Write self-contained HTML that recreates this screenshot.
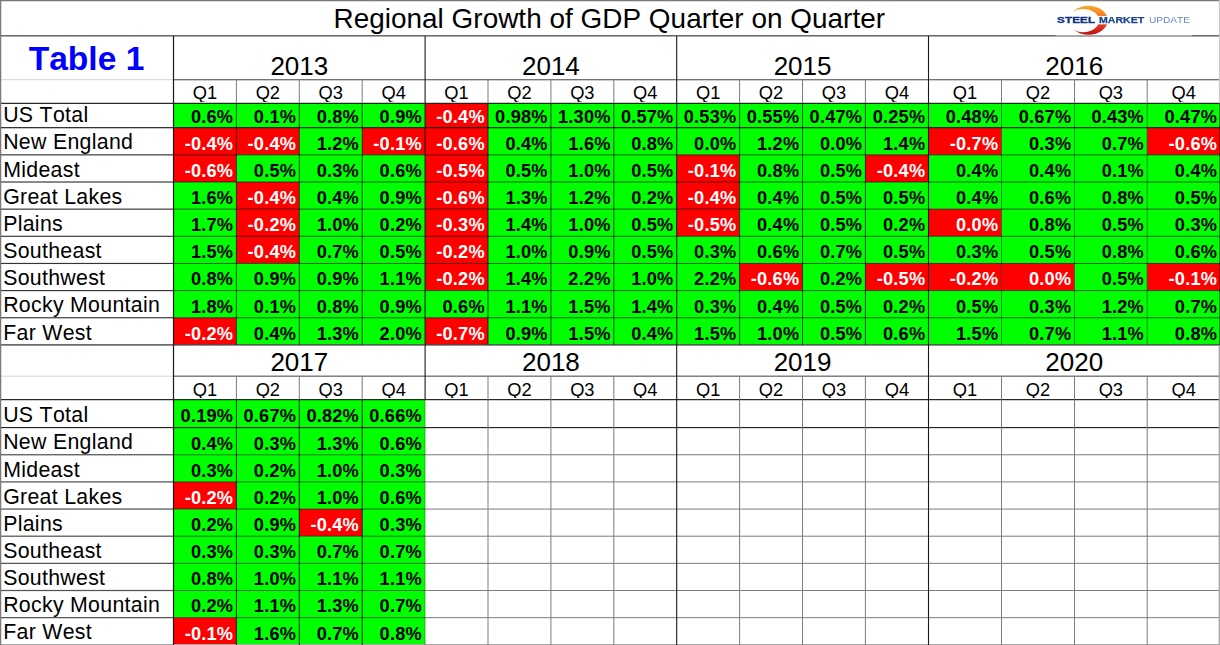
<!DOCTYPE html>
<html><head><meta charset="utf-8"><title>Regional Growth of GDP Quarter on Quarter</title>
<style>
html,body{margin:0;padding:0;background:#fff;}
body{width:1220px;height:645px;overflow:hidden;position:relative;font-family:"Liberation Sans",sans-serif;color:#000;}
#g{position:absolute;left:0;top:0;}
div{position:absolute;white-space:nowrap;line-height:1;font-kerning:none;font-feature-settings:"kern" 0,"liga" 0;}
.v{font-weight:bold;font-size:18.2px;text-align:right;height:20px;letter-spacing:0.2px;}
.w{color:#fff;}
.l{left:3.2px;font-size:21.3px;letter-spacing:0.3px;}
.y{font-size:26px;text-align:center;}
.q{font-size:18.3px;text-align:center;height:17.6px;overflow:hidden;}
.t{left:333.5px;font-size:27.9px;top:5.2px;letter-spacing:0.03px;}
.t1{left:0;width:173px;text-align:center;font-size:33.6px;font-weight:bold;color:#0000ff;top:41.6px;}
.logo{position:absolute;}
.lt{font-size:9.2px;top:15.6px;transform-origin:0 0;}
</style></head><body>
<svg id="g" width="1220" height="645" viewBox="0 0 1220 645">
<rect x="173.50" y="103.35" width="62.90" height="24.35" fill="#00ff00"/>
<rect x="236.40" y="103.35" width="62.90" height="24.35" fill="#00ff00"/>
<rect x="299.30" y="103.35" width="62.90" height="24.35" fill="#00ff00"/>
<rect x="362.20" y="103.35" width="62.90" height="24.35" fill="#00ff00"/>
<rect x="425.10" y="103.35" width="62.90" height="24.35" fill="#ff0000"/>
<rect x="488.00" y="103.35" width="62.90" height="24.35" fill="#00ff00"/>
<rect x="550.90" y="103.35" width="62.90" height="24.35" fill="#00ff00"/>
<rect x="613.80" y="103.35" width="62.90" height="24.35" fill="#00ff00"/>
<rect x="676.70" y="103.35" width="62.90" height="24.35" fill="#00ff00"/>
<rect x="739.60" y="103.35" width="62.90" height="24.35" fill="#00ff00"/>
<rect x="802.50" y="103.35" width="62.90" height="24.35" fill="#00ff00"/>
<rect x="865.40" y="103.35" width="63.10" height="24.35" fill="#00ff00"/>
<rect x="928.50" y="103.35" width="73.00" height="24.35" fill="#00ff00"/>
<rect x="1001.50" y="103.35" width="73.00" height="24.35" fill="#00ff00"/>
<rect x="1074.50" y="103.35" width="72.70" height="24.35" fill="#00ff00"/>
<rect x="1147.20" y="103.35" width="73.10" height="24.35" fill="#00ff00"/>
<rect x="173.50" y="127.70" width="62.90" height="27.15" fill="#ff0000"/>
<rect x="236.40" y="127.70" width="62.90" height="27.15" fill="#ff0000"/>
<rect x="299.30" y="127.70" width="62.90" height="27.15" fill="#00ff00"/>
<rect x="362.20" y="127.70" width="62.90" height="27.15" fill="#ff0000"/>
<rect x="425.10" y="127.70" width="62.90" height="27.15" fill="#ff0000"/>
<rect x="488.00" y="127.70" width="62.90" height="27.15" fill="#00ff00"/>
<rect x="550.90" y="127.70" width="62.90" height="27.15" fill="#00ff00"/>
<rect x="613.80" y="127.70" width="62.90" height="27.15" fill="#00ff00"/>
<rect x="676.70" y="127.70" width="62.90" height="27.15" fill="#00ff00"/>
<rect x="739.60" y="127.70" width="62.90" height="27.15" fill="#00ff00"/>
<rect x="802.50" y="127.70" width="62.90" height="27.15" fill="#00ff00"/>
<rect x="865.40" y="127.70" width="63.10" height="27.15" fill="#00ff00"/>
<rect x="928.50" y="127.70" width="73.00" height="27.15" fill="#ff0000"/>
<rect x="1001.50" y="127.70" width="73.00" height="27.15" fill="#00ff00"/>
<rect x="1074.50" y="127.70" width="72.70" height="27.15" fill="#00ff00"/>
<rect x="1147.20" y="127.70" width="73.10" height="27.15" fill="#ff0000"/>
<rect x="173.50" y="154.85" width="62.90" height="27.15" fill="#ff0000"/>
<rect x="236.40" y="154.85" width="62.90" height="27.15" fill="#00ff00"/>
<rect x="299.30" y="154.85" width="62.90" height="27.15" fill="#00ff00"/>
<rect x="362.20" y="154.85" width="62.90" height="27.15" fill="#00ff00"/>
<rect x="425.10" y="154.85" width="62.90" height="27.15" fill="#ff0000"/>
<rect x="488.00" y="154.85" width="62.90" height="27.15" fill="#00ff00"/>
<rect x="550.90" y="154.85" width="62.90" height="27.15" fill="#00ff00"/>
<rect x="613.80" y="154.85" width="62.90" height="27.15" fill="#00ff00"/>
<rect x="676.70" y="154.85" width="62.90" height="27.15" fill="#ff0000"/>
<rect x="739.60" y="154.85" width="62.90" height="27.15" fill="#00ff00"/>
<rect x="802.50" y="154.85" width="62.90" height="27.15" fill="#00ff00"/>
<rect x="865.40" y="154.85" width="63.10" height="27.15" fill="#ff0000"/>
<rect x="928.50" y="154.85" width="73.00" height="27.15" fill="#00ff00"/>
<rect x="1001.50" y="154.85" width="73.00" height="27.15" fill="#00ff00"/>
<rect x="1074.50" y="154.85" width="72.70" height="27.15" fill="#00ff00"/>
<rect x="1147.20" y="154.85" width="73.10" height="27.15" fill="#00ff00"/>
<rect x="173.50" y="182.00" width="62.90" height="27.15" fill="#00ff00"/>
<rect x="236.40" y="182.00" width="62.90" height="27.15" fill="#ff0000"/>
<rect x="299.30" y="182.00" width="62.90" height="27.15" fill="#00ff00"/>
<rect x="362.20" y="182.00" width="62.90" height="27.15" fill="#00ff00"/>
<rect x="425.10" y="182.00" width="62.90" height="27.15" fill="#ff0000"/>
<rect x="488.00" y="182.00" width="62.90" height="27.15" fill="#00ff00"/>
<rect x="550.90" y="182.00" width="62.90" height="27.15" fill="#00ff00"/>
<rect x="613.80" y="182.00" width="62.90" height="27.15" fill="#00ff00"/>
<rect x="676.70" y="182.00" width="62.90" height="27.15" fill="#ff0000"/>
<rect x="739.60" y="182.00" width="62.90" height="27.15" fill="#00ff00"/>
<rect x="802.50" y="182.00" width="62.90" height="27.15" fill="#00ff00"/>
<rect x="865.40" y="182.00" width="63.10" height="27.15" fill="#00ff00"/>
<rect x="928.50" y="182.00" width="73.00" height="27.15" fill="#00ff00"/>
<rect x="1001.50" y="182.00" width="73.00" height="27.15" fill="#00ff00"/>
<rect x="1074.50" y="182.00" width="72.70" height="27.15" fill="#00ff00"/>
<rect x="1147.20" y="182.00" width="73.10" height="27.15" fill="#00ff00"/>
<rect x="173.50" y="209.15" width="62.90" height="27.15" fill="#00ff00"/>
<rect x="236.40" y="209.15" width="62.90" height="27.15" fill="#ff0000"/>
<rect x="299.30" y="209.15" width="62.90" height="27.15" fill="#00ff00"/>
<rect x="362.20" y="209.15" width="62.90" height="27.15" fill="#00ff00"/>
<rect x="425.10" y="209.15" width="62.90" height="27.15" fill="#ff0000"/>
<rect x="488.00" y="209.15" width="62.90" height="27.15" fill="#00ff00"/>
<rect x="550.90" y="209.15" width="62.90" height="27.15" fill="#00ff00"/>
<rect x="613.80" y="209.15" width="62.90" height="27.15" fill="#00ff00"/>
<rect x="676.70" y="209.15" width="62.90" height="27.15" fill="#ff0000"/>
<rect x="739.60" y="209.15" width="62.90" height="27.15" fill="#00ff00"/>
<rect x="802.50" y="209.15" width="62.90" height="27.15" fill="#00ff00"/>
<rect x="865.40" y="209.15" width="63.10" height="27.15" fill="#00ff00"/>
<rect x="928.50" y="209.15" width="73.00" height="27.15" fill="#ff0000"/>
<rect x="1001.50" y="209.15" width="73.00" height="27.15" fill="#00ff00"/>
<rect x="1074.50" y="209.15" width="72.70" height="27.15" fill="#00ff00"/>
<rect x="1147.20" y="209.15" width="73.10" height="27.15" fill="#00ff00"/>
<rect x="173.50" y="236.30" width="62.90" height="27.15" fill="#00ff00"/>
<rect x="236.40" y="236.30" width="62.90" height="27.15" fill="#ff0000"/>
<rect x="299.30" y="236.30" width="62.90" height="27.15" fill="#00ff00"/>
<rect x="362.20" y="236.30" width="62.90" height="27.15" fill="#00ff00"/>
<rect x="425.10" y="236.30" width="62.90" height="27.15" fill="#ff0000"/>
<rect x="488.00" y="236.30" width="62.90" height="27.15" fill="#00ff00"/>
<rect x="550.90" y="236.30" width="62.90" height="27.15" fill="#00ff00"/>
<rect x="613.80" y="236.30" width="62.90" height="27.15" fill="#00ff00"/>
<rect x="676.70" y="236.30" width="62.90" height="27.15" fill="#00ff00"/>
<rect x="739.60" y="236.30" width="62.90" height="27.15" fill="#00ff00"/>
<rect x="802.50" y="236.30" width="62.90" height="27.15" fill="#00ff00"/>
<rect x="865.40" y="236.30" width="63.10" height="27.15" fill="#00ff00"/>
<rect x="928.50" y="236.30" width="73.00" height="27.15" fill="#00ff00"/>
<rect x="1001.50" y="236.30" width="73.00" height="27.15" fill="#00ff00"/>
<rect x="1074.50" y="236.30" width="72.70" height="27.15" fill="#00ff00"/>
<rect x="1147.20" y="236.30" width="73.10" height="27.15" fill="#00ff00"/>
<rect x="173.50" y="263.45" width="62.90" height="27.15" fill="#00ff00"/>
<rect x="236.40" y="263.45" width="62.90" height="27.15" fill="#00ff00"/>
<rect x="299.30" y="263.45" width="62.90" height="27.15" fill="#00ff00"/>
<rect x="362.20" y="263.45" width="62.90" height="27.15" fill="#00ff00"/>
<rect x="425.10" y="263.45" width="62.90" height="27.15" fill="#ff0000"/>
<rect x="488.00" y="263.45" width="62.90" height="27.15" fill="#00ff00"/>
<rect x="550.90" y="263.45" width="62.90" height="27.15" fill="#00ff00"/>
<rect x="613.80" y="263.45" width="62.90" height="27.15" fill="#00ff00"/>
<rect x="676.70" y="263.45" width="62.90" height="27.15" fill="#00ff00"/>
<rect x="739.60" y="263.45" width="62.90" height="27.15" fill="#ff0000"/>
<rect x="802.50" y="263.45" width="62.90" height="27.15" fill="#00ff00"/>
<rect x="865.40" y="263.45" width="63.10" height="27.15" fill="#ff0000"/>
<rect x="928.50" y="263.45" width="73.00" height="27.15" fill="#ff0000"/>
<rect x="1001.50" y="263.45" width="73.00" height="27.15" fill="#ff0000"/>
<rect x="1074.50" y="263.45" width="72.70" height="27.15" fill="#00ff00"/>
<rect x="1147.20" y="263.45" width="73.10" height="27.15" fill="#ff0000"/>
<rect x="173.50" y="290.60" width="62.90" height="27.15" fill="#00ff00"/>
<rect x="236.40" y="290.60" width="62.90" height="27.15" fill="#00ff00"/>
<rect x="299.30" y="290.60" width="62.90" height="27.15" fill="#00ff00"/>
<rect x="362.20" y="290.60" width="62.90" height="27.15" fill="#00ff00"/>
<rect x="425.10" y="290.60" width="62.90" height="27.15" fill="#00ff00"/>
<rect x="488.00" y="290.60" width="62.90" height="27.15" fill="#00ff00"/>
<rect x="550.90" y="290.60" width="62.90" height="27.15" fill="#00ff00"/>
<rect x="613.80" y="290.60" width="62.90" height="27.15" fill="#00ff00"/>
<rect x="676.70" y="290.60" width="62.90" height="27.15" fill="#00ff00"/>
<rect x="739.60" y="290.60" width="62.90" height="27.15" fill="#00ff00"/>
<rect x="802.50" y="290.60" width="62.90" height="27.15" fill="#00ff00"/>
<rect x="865.40" y="290.60" width="63.10" height="27.15" fill="#00ff00"/>
<rect x="928.50" y="290.60" width="73.00" height="27.15" fill="#00ff00"/>
<rect x="1001.50" y="290.60" width="73.00" height="27.15" fill="#00ff00"/>
<rect x="1074.50" y="290.60" width="72.70" height="27.15" fill="#00ff00"/>
<rect x="1147.20" y="290.60" width="73.10" height="27.15" fill="#00ff00"/>
<rect x="173.50" y="317.75" width="62.90" height="27.15" fill="#ff0000"/>
<rect x="236.40" y="317.75" width="62.90" height="27.15" fill="#00ff00"/>
<rect x="299.30" y="317.75" width="62.90" height="27.15" fill="#00ff00"/>
<rect x="362.20" y="317.75" width="62.90" height="27.15" fill="#00ff00"/>
<rect x="425.10" y="317.75" width="62.90" height="27.15" fill="#ff0000"/>
<rect x="488.00" y="317.75" width="62.90" height="27.15" fill="#00ff00"/>
<rect x="550.90" y="317.75" width="62.90" height="27.15" fill="#00ff00"/>
<rect x="613.80" y="317.75" width="62.90" height="27.15" fill="#00ff00"/>
<rect x="676.70" y="317.75" width="62.90" height="27.15" fill="#00ff00"/>
<rect x="739.60" y="317.75" width="62.90" height="27.15" fill="#00ff00"/>
<rect x="802.50" y="317.75" width="62.90" height="27.15" fill="#00ff00"/>
<rect x="865.40" y="317.75" width="63.10" height="27.15" fill="#00ff00"/>
<rect x="928.50" y="317.75" width="73.00" height="27.15" fill="#00ff00"/>
<rect x="1001.50" y="317.75" width="73.00" height="27.15" fill="#00ff00"/>
<rect x="1074.50" y="317.75" width="72.70" height="27.15" fill="#00ff00"/>
<rect x="1147.20" y="317.75" width="73.10" height="27.15" fill="#00ff00"/>
<rect x="173.50" y="399.65" width="62.90" height="27.95" fill="#00ff00"/>
<rect x="236.40" y="399.65" width="62.90" height="27.95" fill="#00ff00"/>
<rect x="299.30" y="399.65" width="62.90" height="27.95" fill="#00ff00"/>
<rect x="362.20" y="399.65" width="62.90" height="27.95" fill="#00ff00"/>
<rect x="173.50" y="427.60" width="62.90" height="27.15" fill="#00ff00"/>
<rect x="236.40" y="427.60" width="62.90" height="27.15" fill="#00ff00"/>
<rect x="299.30" y="427.60" width="62.90" height="27.15" fill="#00ff00"/>
<rect x="362.20" y="427.60" width="62.90" height="27.15" fill="#00ff00"/>
<rect x="173.50" y="454.75" width="62.90" height="27.15" fill="#00ff00"/>
<rect x="236.40" y="454.75" width="62.90" height="27.15" fill="#00ff00"/>
<rect x="299.30" y="454.75" width="62.90" height="27.15" fill="#00ff00"/>
<rect x="362.20" y="454.75" width="62.90" height="27.15" fill="#00ff00"/>
<rect x="173.50" y="481.90" width="62.90" height="27.15" fill="#ff0000"/>
<rect x="236.40" y="481.90" width="62.90" height="27.15" fill="#00ff00"/>
<rect x="299.30" y="481.90" width="62.90" height="27.15" fill="#00ff00"/>
<rect x="362.20" y="481.90" width="62.90" height="27.15" fill="#00ff00"/>
<rect x="173.50" y="509.05" width="62.90" height="27.15" fill="#00ff00"/>
<rect x="236.40" y="509.05" width="62.90" height="27.15" fill="#00ff00"/>
<rect x="299.30" y="509.05" width="62.90" height="27.15" fill="#ff0000"/>
<rect x="362.20" y="509.05" width="62.90" height="27.15" fill="#00ff00"/>
<rect x="173.50" y="536.20" width="62.90" height="27.15" fill="#00ff00"/>
<rect x="236.40" y="536.20" width="62.90" height="27.15" fill="#00ff00"/>
<rect x="299.30" y="536.20" width="62.90" height="27.15" fill="#00ff00"/>
<rect x="362.20" y="536.20" width="62.90" height="27.15" fill="#00ff00"/>
<rect x="173.50" y="563.35" width="62.90" height="27.15" fill="#00ff00"/>
<rect x="236.40" y="563.35" width="62.90" height="27.15" fill="#00ff00"/>
<rect x="299.30" y="563.35" width="62.90" height="27.15" fill="#00ff00"/>
<rect x="362.20" y="563.35" width="62.90" height="27.15" fill="#00ff00"/>
<rect x="173.50" y="590.50" width="62.90" height="27.15" fill="#00ff00"/>
<rect x="236.40" y="590.50" width="62.90" height="27.15" fill="#00ff00"/>
<rect x="299.30" y="590.50" width="62.90" height="27.15" fill="#00ff00"/>
<rect x="362.20" y="590.50" width="62.90" height="27.15" fill="#00ff00"/>
<rect x="173.50" y="617.65" width="62.90" height="27.15" fill="#ff0000"/>
<rect x="236.40" y="617.65" width="62.90" height="27.15" fill="#00ff00"/>
<rect x="299.30" y="617.65" width="62.90" height="27.15" fill="#00ff00"/>
<rect x="362.20" y="617.65" width="62.90" height="27.15" fill="#00ff00"/>
<rect x="0.00" y="-0.05" width="1220.00" height="1.30" fill="#7a7a7a"/>
<rect x="0.00" y="35.10" width="1220.00" height="1.40" fill="#5a5a5a"/>
<rect x="1055.50" y="34.60" width="136.50" height="1.10" fill="rgba(255,255,255,0.6)"/>
<rect x="0.00" y="79.20" width="173.50" height="1.00" fill="#d4d4d4"/>
<rect x="173.50" y="79.05" width="1046.50" height="1.30" fill="#6e6e6e"/>
<rect x="0.00" y="102.77" width="1220.00" height="1.15" fill="#1a1a1a"/>
<rect x="0.00" y="127.12" width="1220.00" height="1.15" fill="#1a1a1a"/>
<rect x="0.00" y="154.28" width="173.50" height="1.15" fill="#333"/>
<rect x="173.50" y="154.35" width="1046.50" height="1.00" fill="rgba(0,0,0,0.62)"/>
<rect x="0.00" y="181.43" width="173.50" height="1.15" fill="#333"/>
<rect x="173.50" y="181.50" width="1046.50" height="1.00" fill="rgba(0,0,0,0.62)"/>
<rect x="0.00" y="208.57" width="173.50" height="1.15" fill="#333"/>
<rect x="173.50" y="208.65" width="1046.50" height="1.00" fill="rgba(0,0,0,0.62)"/>
<rect x="0.00" y="235.73" width="173.50" height="1.15" fill="#333"/>
<rect x="173.50" y="235.80" width="1046.50" height="1.00" fill="rgba(0,0,0,0.62)"/>
<rect x="0.00" y="262.88" width="173.50" height="1.15" fill="#333"/>
<rect x="173.50" y="262.95" width="1046.50" height="1.00" fill="rgba(0,0,0,0.62)"/>
<rect x="0.00" y="290.02" width="173.50" height="1.15" fill="#333"/>
<rect x="173.50" y="290.10" width="1046.50" height="1.00" fill="rgba(0,0,0,0.62)"/>
<rect x="0.00" y="317.18" width="173.50" height="1.15" fill="#333"/>
<rect x="173.50" y="317.25" width="1046.50" height="1.00" fill="rgba(0,0,0,0.62)"/>
<rect x="0.00" y="344.20" width="1220.00" height="1.40" fill="#4a4a4a"/>
<rect x="0.00" y="375.70" width="173.50" height="1.00" fill="#d4d4d4"/>
<rect x="173.50" y="375.55" width="1046.50" height="1.30" fill="#6e6e6e"/>
<rect x="0.00" y="399.07" width="1220.00" height="1.15" fill="#1a1a1a"/>
<rect x="0.00" y="427.05" width="1220.00" height="1.10" fill="#1a1a1a"/>
<rect x="0.00" y="454.12" width="173.50" height="1.25" fill="#555"/>
<rect x="173.50" y="454.25" width="251.60" height="1.00" fill="rgba(0,0,0,0.55)"/>
<rect x="425.10" y="454.25" width="794.90" height="1.00" fill="#7c7c7c"/>
<rect x="0.00" y="481.28" width="173.50" height="1.25" fill="#555"/>
<rect x="173.50" y="481.40" width="251.60" height="1.00" fill="rgba(0,0,0,0.55)"/>
<rect x="425.10" y="481.40" width="794.90" height="1.00" fill="#7c7c7c"/>
<rect x="0.00" y="508.43" width="173.50" height="1.25" fill="#555"/>
<rect x="173.50" y="508.55" width="251.60" height="1.00" fill="rgba(0,0,0,0.55)"/>
<rect x="425.10" y="508.55" width="794.90" height="1.00" fill="#7c7c7c"/>
<rect x="0.00" y="535.58" width="173.50" height="1.25" fill="#555"/>
<rect x="173.50" y="535.70" width="251.60" height="1.00" fill="rgba(0,0,0,0.55)"/>
<rect x="425.10" y="535.70" width="794.90" height="1.00" fill="#7c7c7c"/>
<rect x="0.00" y="562.73" width="173.50" height="1.25" fill="#555"/>
<rect x="173.50" y="562.85" width="251.60" height="1.00" fill="rgba(0,0,0,0.55)"/>
<rect x="425.10" y="562.85" width="794.90" height="1.00" fill="#7c7c7c"/>
<rect x="0.00" y="589.88" width="173.50" height="1.25" fill="#555"/>
<rect x="173.50" y="590.00" width="251.60" height="1.00" fill="rgba(0,0,0,0.55)"/>
<rect x="425.10" y="590.00" width="794.90" height="1.00" fill="#7c7c7c"/>
<rect x="0.00" y="617.02" width="173.50" height="1.25" fill="#555"/>
<rect x="173.50" y="617.15" width="251.60" height="1.00" fill="rgba(0,0,0,0.55)"/>
<rect x="425.10" y="617.15" width="794.90" height="1.00" fill="#7c7c7c"/>
<rect x="0.00" y="644.00" width="1220.00" height="1.20" fill="#a8a8a8"/>
<rect x="-0.05" y="0.00" width="1.30" height="645.00" fill="#7a7a7a"/>
<rect x="1218.95" y="0.00" width="1.00" height="103.35" fill="#c4c4c4"/>
<rect x="1219.00" y="103.35" width="1.00" height="241.55" fill="rgba(0,0,0,0.5)"/>
<rect x="1218.70" y="344.90" width="1.30" height="300.10" fill="#a4a4a4"/>
<rect x="172.90" y="36.00" width="1.20" height="609.00" fill="#1a1a1a"/>
<rect x="235.90" y="79.70" width="1.00" height="23.65" fill="#7c7c7c"/>
<rect x="235.90" y="103.35" width="1.00" height="241.55" fill="rgba(0,0,0,0.72)"/>
<rect x="235.90" y="376.20" width="1.00" height="23.45" fill="#7c7c7c"/>
<rect x="235.90" y="399.65" width="1.00" height="245.35" fill="rgba(0,0,0,0.85)"/>
<rect x="298.80" y="79.70" width="1.00" height="23.65" fill="#7c7c7c"/>
<rect x="298.80" y="103.35" width="1.00" height="241.55" fill="rgba(0,0,0,0.72)"/>
<rect x="298.80" y="376.20" width="1.00" height="23.45" fill="#7c7c7c"/>
<rect x="298.80" y="399.65" width="1.00" height="245.35" fill="rgba(0,0,0,0.85)"/>
<rect x="361.70" y="79.70" width="1.00" height="23.65" fill="#7c7c7c"/>
<rect x="361.70" y="103.35" width="1.00" height="241.55" fill="rgba(0,0,0,0.72)"/>
<rect x="361.70" y="376.20" width="1.00" height="23.45" fill="#7c7c7c"/>
<rect x="361.70" y="399.65" width="1.00" height="245.35" fill="rgba(0,0,0,0.85)"/>
<rect x="424.55" y="36.00" width="1.10" height="363.65" fill="#1a1a1a"/>
<rect x="424.60" y="399.65" width="1.00" height="245.35" fill="rgba(0,0,0,0.3)"/>
<rect x="487.50" y="79.70" width="1.00" height="23.65" fill="#7c7c7c"/>
<rect x="487.50" y="103.35" width="1.00" height="241.55" fill="rgba(0,0,0,0.72)"/>
<rect x="487.50" y="376.20" width="1.00" height="23.45" fill="#7c7c7c"/>
<rect x="487.50" y="399.65" width="1.00" height="245.35" fill="#7c7c7c"/>
<rect x="550.40" y="79.70" width="1.00" height="23.65" fill="#7c7c7c"/>
<rect x="550.40" y="103.35" width="1.00" height="241.55" fill="rgba(0,0,0,0.72)"/>
<rect x="550.40" y="376.20" width="1.00" height="23.45" fill="#7c7c7c"/>
<rect x="550.40" y="399.65" width="1.00" height="245.35" fill="#7c7c7c"/>
<rect x="613.30" y="79.70" width="1.00" height="23.65" fill="#7c7c7c"/>
<rect x="613.30" y="103.35" width="1.00" height="241.55" fill="rgba(0,0,0,0.72)"/>
<rect x="613.30" y="376.20" width="1.00" height="23.45" fill="#7c7c7c"/>
<rect x="613.30" y="399.65" width="1.00" height="245.35" fill="#7c7c7c"/>
<rect x="676.15" y="36.00" width="1.10" height="609.00" fill="#1a1a1a"/>
<rect x="739.10" y="79.70" width="1.00" height="23.65" fill="#7c7c7c"/>
<rect x="739.10" y="103.35" width="1.00" height="241.55" fill="rgba(0,0,0,0.72)"/>
<rect x="739.10" y="376.20" width="1.00" height="23.45" fill="#7c7c7c"/>
<rect x="739.10" y="399.65" width="1.00" height="245.35" fill="#7c7c7c"/>
<rect x="802.00" y="79.70" width="1.00" height="23.65" fill="#7c7c7c"/>
<rect x="802.00" y="103.35" width="1.00" height="241.55" fill="rgba(0,0,0,0.72)"/>
<rect x="802.00" y="376.20" width="1.00" height="23.45" fill="#7c7c7c"/>
<rect x="802.00" y="399.65" width="1.00" height="245.35" fill="#7c7c7c"/>
<rect x="864.90" y="79.70" width="1.00" height="23.65" fill="#7c7c7c"/>
<rect x="864.90" y="103.35" width="1.00" height="241.55" fill="rgba(0,0,0,0.72)"/>
<rect x="864.90" y="376.20" width="1.00" height="23.45" fill="#7c7c7c"/>
<rect x="864.90" y="399.65" width="1.00" height="245.35" fill="#7c7c7c"/>
<rect x="927.95" y="36.00" width="1.10" height="609.00" fill="#1a1a1a"/>
<rect x="1001.00" y="79.70" width="1.00" height="23.65" fill="#7c7c7c"/>
<rect x="1001.00" y="103.35" width="1.00" height="241.55" fill="rgba(0,0,0,0.45)"/>
<rect x="1001.00" y="376.20" width="1.00" height="23.45" fill="#7c7c7c"/>
<rect x="1001.00" y="399.65" width="1.00" height="245.35" fill="#7c7c7c"/>
<rect x="1074.00" y="79.70" width="1.00" height="23.65" fill="#7c7c7c"/>
<rect x="1074.00" y="103.35" width="1.00" height="241.55" fill="rgba(0,0,0,0.45)"/>
<rect x="1074.00" y="376.20" width="1.00" height="23.45" fill="#7c7c7c"/>
<rect x="1074.00" y="399.65" width="1.00" height="245.35" fill="#7c7c7c"/>
<rect x="1146.70" y="79.70" width="1.00" height="23.65" fill="#7c7c7c"/>
<rect x="1146.70" y="103.35" width="1.00" height="241.55" fill="rgba(0,0,0,0.45)"/>
<rect x="1146.70" y="376.20" width="1.00" height="23.45" fill="#7c7c7c"/>
<rect x="1146.70" y="399.65" width="1.00" height="245.35" fill="#7c7c7c"/>
</svg>
<div class="t">Regional Growth of GDP Quarter on Quarter</div>
<div class="t1">Table 1</div>
<svg class="logo" width="60" height="36" viewBox="1060 0 60 36" style="left:1060px;top:0px">
<defs><linearGradient id="sw" gradientUnits="userSpaceOnUse" x1="0" y1="5.5" x2="0" y2="35"><stop offset="0" stop-color="#fbab2c"/><stop offset="0.35" stop-color="#f47a22"/><stop offset="0.62" stop-color="#e8431f"/><stop offset="1" stop-color="#bb0d14"/></linearGradient>
<mask id="mk" maskUnits="userSpaceOnUse" x="1060" y="0" width="60" height="36"><rect x="1060" y="0" width="60" height="36" fill="#fff"/><ellipse cx="1083.1" cy="20.55" rx="15.9" ry="11.65" fill="#000"/></mask></defs>
<ellipse cx="1088.5" cy="20.3" rx="19.2" ry="14.5" fill="url(#sw)" mask="url(#mk)"/>
<rect x="1094" y="16.1" width="16" height="8.2" fill="#fff"/>
</svg>
<div class="lt" style="left:1057.3px;font-weight:bold;color:#14347f;-webkit-text-stroke:0.3px #14347f;transform:scaleX(1.29)">STEEL</div>
<div class="lt" style="left:1099.3px;font-weight:bold;color:#1a4592;-webkit-text-stroke:0.25px #1a4592;transform:scaleX(1.15)">MARKET</div>
<div class="lt" style="left:1148.6px;color:#6585c6;transform:scaleX(1.10)">UPDATE</div>
<div class="v" style="left:173.5px;width:59.7px;top:107.5px">0.6%</div>
<div class="v" style="left:236.4px;width:59.7px;top:107.5px">0.1%</div>
<div class="v" style="left:299.3px;width:59.7px;top:107.5px">0.8%</div>
<div class="v" style="left:362.2px;width:59.7px;top:107.5px">0.9%</div>
<div class="v w" style="left:425.1px;width:59.7px;top:107.5px">-0.4%</div>
<div class="v" style="left:488.0px;width:59.7px;top:107.5px">0.98%</div>
<div class="v" style="left:550.9px;width:59.7px;top:107.5px">1.30%</div>
<div class="v" style="left:613.8px;width:59.7px;top:107.5px">0.57%</div>
<div class="v" style="left:676.7px;width:59.7px;top:107.5px">0.53%</div>
<div class="v" style="left:739.6px;width:59.7px;top:107.5px">0.55%</div>
<div class="v" style="left:802.5px;width:59.7px;top:107.5px">0.47%</div>
<div class="v" style="left:865.4px;width:59.9px;top:107.5px">0.25%</div>
<div class="v" style="left:928.5px;width:69.8px;top:107.5px">0.48%</div>
<div class="v" style="left:1001.5px;width:69.8px;top:107.5px">0.67%</div>
<div class="v" style="left:1074.5px;width:69.5px;top:107.5px">0.43%</div>
<div class="v" style="left:1147.2px;width:69.9px;top:107.5px">0.47%</div>
<div class="v w" style="left:173.5px;width:59.7px;top:134.7px">-0.4%</div>
<div class="v w" style="left:236.4px;width:59.7px;top:134.7px">-0.4%</div>
<div class="v" style="left:299.3px;width:59.7px;top:134.7px">1.2%</div>
<div class="v w" style="left:362.2px;width:59.7px;top:134.7px">-0.1%</div>
<div class="v w" style="left:425.1px;width:59.7px;top:134.7px">-0.6%</div>
<div class="v" style="left:488.0px;width:59.7px;top:134.7px">0.4%</div>
<div class="v" style="left:550.9px;width:59.7px;top:134.7px">1.6%</div>
<div class="v" style="left:613.8px;width:59.7px;top:134.7px">0.8%</div>
<div class="v" style="left:676.7px;width:59.7px;top:134.7px">0.0%</div>
<div class="v" style="left:739.6px;width:59.7px;top:134.7px">1.2%</div>
<div class="v" style="left:802.5px;width:59.7px;top:134.7px">0.0%</div>
<div class="v" style="left:865.4px;width:59.9px;top:134.7px">1.4%</div>
<div class="v w" style="left:928.5px;width:69.8px;top:134.7px">-0.7%</div>
<div class="v" style="left:1001.5px;width:69.8px;top:134.7px">0.3%</div>
<div class="v" style="left:1074.5px;width:69.5px;top:134.7px">0.7%</div>
<div class="v w" style="left:1147.2px;width:69.9px;top:134.7px">-0.6%</div>
<div class="v w" style="left:173.5px;width:59.7px;top:161.8px">-0.6%</div>
<div class="v" style="left:236.4px;width:59.7px;top:161.8px">0.5%</div>
<div class="v" style="left:299.3px;width:59.7px;top:161.8px">0.3%</div>
<div class="v" style="left:362.2px;width:59.7px;top:161.8px">0.6%</div>
<div class="v w" style="left:425.1px;width:59.7px;top:161.8px">-0.5%</div>
<div class="v" style="left:488.0px;width:59.7px;top:161.8px">0.5%</div>
<div class="v" style="left:550.9px;width:59.7px;top:161.8px">1.0%</div>
<div class="v" style="left:613.8px;width:59.7px;top:161.8px">0.5%</div>
<div class="v w" style="left:676.7px;width:59.7px;top:161.8px">-0.1%</div>
<div class="v" style="left:739.6px;width:59.7px;top:161.8px">0.8%</div>
<div class="v" style="left:802.5px;width:59.7px;top:161.8px">0.5%</div>
<div class="v w" style="left:865.4px;width:59.9px;top:161.8px">-0.4%</div>
<div class="v" style="left:928.5px;width:69.8px;top:161.8px">0.4%</div>
<div class="v" style="left:1001.5px;width:69.8px;top:161.8px">0.4%</div>
<div class="v" style="left:1074.5px;width:69.5px;top:161.8px">0.1%</div>
<div class="v" style="left:1147.2px;width:69.9px;top:161.8px">0.4%</div>
<div class="v" style="left:173.5px;width:59.7px;top:188.9px">1.6%</div>
<div class="v w" style="left:236.4px;width:59.7px;top:188.9px">-0.4%</div>
<div class="v" style="left:299.3px;width:59.7px;top:188.9px">0.4%</div>
<div class="v" style="left:362.2px;width:59.7px;top:188.9px">0.9%</div>
<div class="v w" style="left:425.1px;width:59.7px;top:188.9px">-0.6%</div>
<div class="v" style="left:488.0px;width:59.7px;top:188.9px">1.3%</div>
<div class="v" style="left:550.9px;width:59.7px;top:188.9px">1.2%</div>
<div class="v" style="left:613.8px;width:59.7px;top:188.9px">0.2%</div>
<div class="v w" style="left:676.7px;width:59.7px;top:188.9px">-0.4%</div>
<div class="v" style="left:739.6px;width:59.7px;top:188.9px">0.4%</div>
<div class="v" style="left:802.5px;width:59.7px;top:188.9px">0.5%</div>
<div class="v" style="left:865.4px;width:59.9px;top:188.9px">0.5%</div>
<div class="v" style="left:928.5px;width:69.8px;top:188.9px">0.4%</div>
<div class="v" style="left:1001.5px;width:69.8px;top:188.9px">0.6%</div>
<div class="v" style="left:1074.5px;width:69.5px;top:188.9px">0.8%</div>
<div class="v" style="left:1147.2px;width:69.9px;top:188.9px">0.5%</div>
<div class="v" style="left:173.5px;width:59.7px;top:216.1px">1.7%</div>
<div class="v w" style="left:236.4px;width:59.7px;top:216.1px">-0.2%</div>
<div class="v" style="left:299.3px;width:59.7px;top:216.1px">1.0%</div>
<div class="v" style="left:362.2px;width:59.7px;top:216.1px">0.2%</div>
<div class="v w" style="left:425.1px;width:59.7px;top:216.1px">-0.3%</div>
<div class="v" style="left:488.0px;width:59.7px;top:216.1px">1.4%</div>
<div class="v" style="left:550.9px;width:59.7px;top:216.1px">1.0%</div>
<div class="v" style="left:613.8px;width:59.7px;top:216.1px">0.5%</div>
<div class="v w" style="left:676.7px;width:59.7px;top:216.1px">-0.5%</div>
<div class="v" style="left:739.6px;width:59.7px;top:216.1px">0.4%</div>
<div class="v" style="left:802.5px;width:59.7px;top:216.1px">0.5%</div>
<div class="v" style="left:865.4px;width:59.9px;top:216.1px">0.2%</div>
<div class="v w" style="left:928.5px;width:69.8px;top:216.1px">0.0%</div>
<div class="v" style="left:1001.5px;width:69.8px;top:216.1px">0.8%</div>
<div class="v" style="left:1074.5px;width:69.5px;top:216.1px">0.5%</div>
<div class="v" style="left:1147.2px;width:69.9px;top:216.1px">0.3%</div>
<div class="v" style="left:173.5px;width:59.7px;top:243.2px">1.5%</div>
<div class="v w" style="left:236.4px;width:59.7px;top:243.2px">-0.4%</div>
<div class="v" style="left:299.3px;width:59.7px;top:243.2px">0.7%</div>
<div class="v" style="left:362.2px;width:59.7px;top:243.2px">0.5%</div>
<div class="v w" style="left:425.1px;width:59.7px;top:243.2px">-0.2%</div>
<div class="v" style="left:488.0px;width:59.7px;top:243.2px">1.0%</div>
<div class="v" style="left:550.9px;width:59.7px;top:243.2px">0.9%</div>
<div class="v" style="left:613.8px;width:59.7px;top:243.2px">0.5%</div>
<div class="v" style="left:676.7px;width:59.7px;top:243.2px">0.3%</div>
<div class="v" style="left:739.6px;width:59.7px;top:243.2px">0.6%</div>
<div class="v" style="left:802.5px;width:59.7px;top:243.2px">0.7%</div>
<div class="v" style="left:865.4px;width:59.9px;top:243.2px">0.5%</div>
<div class="v" style="left:928.5px;width:69.8px;top:243.2px">0.3%</div>
<div class="v" style="left:1001.5px;width:69.8px;top:243.2px">0.5%</div>
<div class="v" style="left:1074.5px;width:69.5px;top:243.2px">0.8%</div>
<div class="v" style="left:1147.2px;width:69.9px;top:243.2px">0.6%</div>
<div class="v" style="left:173.5px;width:59.7px;top:270.4px">0.8%</div>
<div class="v" style="left:236.4px;width:59.7px;top:270.4px">0.9%</div>
<div class="v" style="left:299.3px;width:59.7px;top:270.4px">0.9%</div>
<div class="v" style="left:362.2px;width:59.7px;top:270.4px">1.1%</div>
<div class="v w" style="left:425.1px;width:59.7px;top:270.4px">-0.2%</div>
<div class="v" style="left:488.0px;width:59.7px;top:270.4px">1.4%</div>
<div class="v" style="left:550.9px;width:59.7px;top:270.4px">2.2%</div>
<div class="v" style="left:613.8px;width:59.7px;top:270.4px">1.0%</div>
<div class="v" style="left:676.7px;width:59.7px;top:270.4px">2.2%</div>
<div class="v w" style="left:739.6px;width:59.7px;top:270.4px">-0.6%</div>
<div class="v" style="left:802.5px;width:59.7px;top:270.4px">0.2%</div>
<div class="v w" style="left:865.4px;width:59.9px;top:270.4px">-0.5%</div>
<div class="v w" style="left:928.5px;width:69.8px;top:270.4px">-0.2%</div>
<div class="v w" style="left:1001.5px;width:69.8px;top:270.4px">0.0%</div>
<div class="v" style="left:1074.5px;width:69.5px;top:270.4px">0.5%</div>
<div class="v w" style="left:1147.2px;width:69.9px;top:270.4px">-0.1%</div>
<div class="v" style="left:173.5px;width:59.7px;top:297.6px">1.8%</div>
<div class="v" style="left:236.4px;width:59.7px;top:297.6px">0.1%</div>
<div class="v" style="left:299.3px;width:59.7px;top:297.6px">0.8%</div>
<div class="v" style="left:362.2px;width:59.7px;top:297.6px">0.9%</div>
<div class="v" style="left:425.1px;width:59.7px;top:297.6px">0.6%</div>
<div class="v" style="left:488.0px;width:59.7px;top:297.6px">1.1%</div>
<div class="v" style="left:550.9px;width:59.7px;top:297.6px">1.5%</div>
<div class="v" style="left:613.8px;width:59.7px;top:297.6px">1.4%</div>
<div class="v" style="left:676.7px;width:59.7px;top:297.6px">0.3%</div>
<div class="v" style="left:739.6px;width:59.7px;top:297.6px">0.4%</div>
<div class="v" style="left:802.5px;width:59.7px;top:297.6px">0.5%</div>
<div class="v" style="left:865.4px;width:59.9px;top:297.6px">0.2%</div>
<div class="v" style="left:928.5px;width:69.8px;top:297.6px">0.5%</div>
<div class="v" style="left:1001.5px;width:69.8px;top:297.6px">0.3%</div>
<div class="v" style="left:1074.5px;width:69.5px;top:297.6px">1.2%</div>
<div class="v" style="left:1147.2px;width:69.9px;top:297.6px">0.7%</div>
<div class="v w" style="left:173.5px;width:59.7px;top:324.7px">-0.2%</div>
<div class="v" style="left:236.4px;width:59.7px;top:324.7px">0.4%</div>
<div class="v" style="left:299.3px;width:59.7px;top:324.7px">1.3%</div>
<div class="v" style="left:362.2px;width:59.7px;top:324.7px">2.0%</div>
<div class="v w" style="left:425.1px;width:59.7px;top:324.7px">-0.7%</div>
<div class="v" style="left:488.0px;width:59.7px;top:324.7px">0.9%</div>
<div class="v" style="left:550.9px;width:59.7px;top:324.7px">1.5%</div>
<div class="v" style="left:613.8px;width:59.7px;top:324.7px">0.4%</div>
<div class="v" style="left:676.7px;width:59.7px;top:324.7px">1.5%</div>
<div class="v" style="left:739.6px;width:59.7px;top:324.7px">1.0%</div>
<div class="v" style="left:802.5px;width:59.7px;top:324.7px">0.5%</div>
<div class="v" style="left:865.4px;width:59.9px;top:324.7px">0.6%</div>
<div class="v" style="left:928.5px;width:69.8px;top:324.7px">1.5%</div>
<div class="v" style="left:1001.5px;width:69.8px;top:324.7px">0.7%</div>
<div class="v" style="left:1074.5px;width:69.5px;top:324.7px">1.1%</div>
<div class="v" style="left:1147.2px;width:69.9px;top:324.7px">0.8%</div>
<div class="v" style="left:173.5px;width:59.7px;top:407.4px">0.19%</div>
<div class="v" style="left:236.4px;width:59.7px;top:407.4px">0.67%</div>
<div class="v" style="left:299.3px;width:59.7px;top:407.4px">0.82%</div>
<div class="v" style="left:362.2px;width:59.7px;top:407.4px">0.66%</div>
<div class="v" style="left:173.5px;width:59.7px;top:434.6px">0.4%</div>
<div class="v" style="left:236.4px;width:59.7px;top:434.6px">0.3%</div>
<div class="v" style="left:299.3px;width:59.7px;top:434.6px">1.3%</div>
<div class="v" style="left:362.2px;width:59.7px;top:434.6px">0.6%</div>
<div class="v" style="left:173.5px;width:59.7px;top:461.7px">0.3%</div>
<div class="v" style="left:236.4px;width:59.7px;top:461.7px">0.2%</div>
<div class="v" style="left:299.3px;width:59.7px;top:461.7px">1.0%</div>
<div class="v" style="left:362.2px;width:59.7px;top:461.7px">0.3%</div>
<div class="v w" style="left:173.5px;width:59.7px;top:488.9px">-0.2%</div>
<div class="v" style="left:236.4px;width:59.7px;top:488.9px">0.2%</div>
<div class="v" style="left:299.3px;width:59.7px;top:488.9px">1.0%</div>
<div class="v" style="left:362.2px;width:59.7px;top:488.9px">0.6%</div>
<div class="v" style="left:173.5px;width:59.7px;top:516.0px">0.2%</div>
<div class="v" style="left:236.4px;width:59.7px;top:516.0px">0.9%</div>
<div class="v w" style="left:299.3px;width:59.7px;top:516.0px">-0.4%</div>
<div class="v" style="left:362.2px;width:59.7px;top:516.0px">0.3%</div>
<div class="v" style="left:173.5px;width:59.7px;top:543.1px">0.3%</div>
<div class="v" style="left:236.4px;width:59.7px;top:543.1px">0.3%</div>
<div class="v" style="left:299.3px;width:59.7px;top:543.1px">0.7%</div>
<div class="v" style="left:362.2px;width:59.7px;top:543.1px">0.7%</div>
<div class="v" style="left:173.5px;width:59.7px;top:570.3px">0.8%</div>
<div class="v" style="left:236.4px;width:59.7px;top:570.3px">1.0%</div>
<div class="v" style="left:299.3px;width:59.7px;top:570.3px">1.1%</div>
<div class="v" style="left:362.2px;width:59.7px;top:570.3px">1.1%</div>
<div class="v" style="left:173.5px;width:59.7px;top:597.4px">0.2%</div>
<div class="v" style="left:236.4px;width:59.7px;top:597.4px">1.1%</div>
<div class="v" style="left:299.3px;width:59.7px;top:597.4px">1.3%</div>
<div class="v" style="left:362.2px;width:59.7px;top:597.4px">0.7%</div>
<div class="v w" style="left:173.5px;width:59.7px;top:624.6px">-0.1%</div>
<div class="v" style="left:236.4px;width:59.7px;top:624.6px">1.6%</div>
<div class="v" style="left:299.3px;width:59.7px;top:624.6px">0.7%</div>
<div class="v" style="left:362.2px;width:59.7px;top:624.6px">0.8%</div>
<div class="l" style="top:105.3px">US Total</div>
<div class="l" style="top:405.2px">US Total</div>
<div class="l" style="top:132.4px">New England</div>
<div class="l" style="top:432.4px">New England</div>
<div class="l" style="top:159.6px">Mideast</div>
<div class="l" style="top:459.5px">Mideast</div>
<div class="l" style="top:186.7px">Great Lakes</div>
<div class="l" style="top:486.7px">Great Lakes</div>
<div class="l" style="top:213.9px">Plains</div>
<div class="l" style="top:513.8px">Plains</div>
<div class="l" style="top:241.0px">Southeast</div>
<div class="l" style="top:541.0px">Southeast</div>
<div class="l" style="top:268.2px">Southwest</div>
<div class="l" style="top:568.1px">Southwest</div>
<div class="l" style="top:295.4px">Rocky Mountain</div>
<div class="l" style="top:595.2px">Rocky Mountain</div>
<div class="l" style="top:322.5px">Far West</div>
<div class="l" style="top:622.4px">Far West</div>
<div class="y" style="left:173.5px;width:251.6px;top:52.6px">2013</div>
<div class="y" style="left:173.5px;width:251.6px;top:349.1px">2017</div>
<div class="y" style="left:425.1px;width:251.6px;top:52.6px">2014</div>
<div class="y" style="left:425.1px;width:251.6px;top:349.1px">2018</div>
<div class="y" style="left:676.7px;width:251.8px;top:52.6px">2015</div>
<div class="y" style="left:676.7px;width:251.8px;top:349.1px">2019</div>
<div class="y" style="left:928.5px;width:291.5px;top:52.6px">2016</div>
<div class="y" style="left:928.5px;width:291.5px;top:349.1px">2020</div>
<div class="q" style="left:173.5px;width:62.9px;top:84.0px">Q1</div>
<div class="q" style="left:173.5px;width:62.9px;top:380.5px">Q1</div>
<div class="q" style="left:236.4px;width:62.9px;top:84.0px">Q2</div>
<div class="q" style="left:236.4px;width:62.9px;top:380.5px">Q2</div>
<div class="q" style="left:299.3px;width:62.9px;top:84.0px">Q3</div>
<div class="q" style="left:299.3px;width:62.9px;top:380.5px">Q3</div>
<div class="q" style="left:362.2px;width:62.9px;top:84.0px">Q4</div>
<div class="q" style="left:362.2px;width:62.9px;top:380.5px">Q4</div>
<div class="q" style="left:425.1px;width:62.9px;top:84.0px">Q1</div>
<div class="q" style="left:425.1px;width:62.9px;top:380.5px">Q1</div>
<div class="q" style="left:488.0px;width:62.9px;top:84.0px">Q2</div>
<div class="q" style="left:488.0px;width:62.9px;top:380.5px">Q2</div>
<div class="q" style="left:550.9px;width:62.9px;top:84.0px">Q3</div>
<div class="q" style="left:550.9px;width:62.9px;top:380.5px">Q3</div>
<div class="q" style="left:613.8px;width:62.9px;top:84.0px">Q4</div>
<div class="q" style="left:613.8px;width:62.9px;top:380.5px">Q4</div>
<div class="q" style="left:676.7px;width:62.9px;top:84.0px">Q1</div>
<div class="q" style="left:676.7px;width:62.9px;top:380.5px">Q1</div>
<div class="q" style="left:739.6px;width:62.9px;top:84.0px">Q2</div>
<div class="q" style="left:739.6px;width:62.9px;top:380.5px">Q2</div>
<div class="q" style="left:802.5px;width:62.9px;top:84.0px">Q3</div>
<div class="q" style="left:802.5px;width:62.9px;top:380.5px">Q3</div>
<div class="q" style="left:865.4px;width:63.1px;top:84.0px">Q4</div>
<div class="q" style="left:865.4px;width:63.1px;top:380.5px">Q4</div>
<div class="q" style="left:928.5px;width:73.0px;top:84.0px">Q1</div>
<div class="q" style="left:928.5px;width:73.0px;top:380.5px">Q1</div>
<div class="q" style="left:1001.5px;width:73.0px;top:84.0px">Q2</div>
<div class="q" style="left:1001.5px;width:73.0px;top:380.5px">Q2</div>
<div class="q" style="left:1074.5px;width:72.7px;top:84.0px">Q3</div>
<div class="q" style="left:1074.5px;width:72.7px;top:380.5px">Q3</div>
<div class="q" style="left:1147.2px;width:73.1px;top:84.0px">Q4</div>
<div class="q" style="left:1147.2px;width:73.1px;top:380.5px">Q4</div>
</body></html>
